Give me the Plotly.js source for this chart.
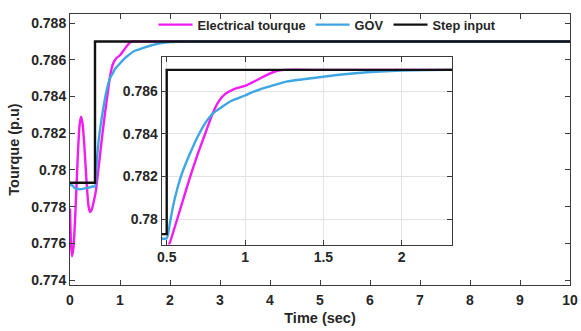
<!DOCTYPE html>
<html>
<head>
<meta charset="utf-8">
<script src="https://cdn.plot.ly/plotly-3.0.1.min.js"></script>
<style>
  html, body { margin: 0; padding: 0; background: #ffffff; }
  #chart { width: 581px; height: 331px; }
</style>
</head>
<body>
<div id="chart"></div>
<script>
// Electrical torque response (p.u) over time (s)
const elecTime = [0, 0.02, 0.04, 0.07, 0.10, 0.13, 0.16, 0.19, 0.22, 0.25, 0.28, 0.31, 0.34, 0.37, 0.40, 0.43, 0.46, 0.50,
  0.52, 0.55, 0.60, 0.65, 0.70, 0.75, 0.79, 0.83, 0.87, 0.93, 1.00, 1.08, 1.15, 1.20, 1.25, 1.5, 2, 3, 5, 10];
const elecTorque = [0.7779, 0.7760, 0.7753, 0.7758, 0.7772, 0.7791, 0.7810, 0.7824, 0.7829, 0.78255, 0.7816, 0.7803, 0.7790, 0.77805, 0.7777, 0.7778, 0.7781, 0.7786,
  0.7789, 0.7796, 0.7808, 0.7820, 0.7831, 0.7841, 0.7849, 0.7855, 0.78585, 0.7861, 0.78625, 0.78654, 0.7868, 0.78695, 0.7870, 0.7870, 0.7870, 0.7870, 0.7870, 0.7870];

// Governor (GOV) mechanical torque
const govTime = [0, 0.05, 0.10, 0.20, 0.30, 0.40, 0.45, 0.50, 0.52, 0.54, 0.57, 0.60, 0.65, 0.70, 0.75, 0.80, 0.85, 0.91,
  1.00, 1.04, 1.10, 1.16, 1.27, 1.37, 1.50, 1.60, 1.80, 2.00, 2.30, 3, 5, 10];
const govTorque = [0.7792, 0.77915, 0.7790, 0.77895, 0.7790, 0.77905, 0.7791, 0.7791, 0.7798, 0.7806, 0.7815, 0.7822, 0.7831, 0.7839, 0.78455, 0.7850, 0.78525, 0.78554,
  0.7858, 0.78593, 0.7861, 0.78623, 0.78646, 0.78656, 0.78668, 0.78677, 0.7869, 0.78697, 0.7870, 0.7870, 0.7870, 0.7870];

// Step reference input
const stepTime = [0, 0.5, 0.5, 10];
const stepTorque = [0.7793, 0.7793, 0.7870, 0.7870];

// Axis ticks
const mainXTicks = [0, 1, 2, 3, 4, 5, 6, 7, 8, 9, 10];
const mainYTicks = [0.774, 0.776, 0.778, 0.78, 0.782, 0.784, 0.786, 0.788];
const mainYLabels = ['0.774', '0.776', '0.778', '0.78', '0.782', '0.784', '0.786', '0.788'];
const insetXTicks = [0.5, 1, 1.5, 2];
const insetXLabels = ['0.5', '1', '1.5', '2'];
const insetYTicks = [0.78, 0.782, 0.784, 0.786];
const insetYLabels = ['0.78', '0.782', '0.784', '0.786'];

const seriesNames = ['Electrical tourque', 'GOV', 'Step input'];
const seriesColors = ['#f21cf2', '#3ea6e4', '#111111'];

const axisColor = '#3a3a3a';
const textColor = '#262626';

function series(x, y, i, inset, smooth) {
  return {
    x: x, y: y, type: 'scatter', mode: 'lines',
    name: seriesNames[i],
    line: smooth ? { color: seriesColors[i], width: 2.4, shape: 'spline', smoothing: 0.6 }
                 : { color: seriesColors[i], width: 2.4 },
    xaxis: inset ? 'x2' : 'x', yaxis: inset ? 'y2' : 'y',
    showlegend: !inset, hoverinfo: 'skip'
  };
}

const data = [
  series(elecTime, elecTorque, 0, false, true),
  series(govTime, govTorque, 1, false, true),
  series(stepTime, stepTorque, 2, false, false),
  series(elecTime, elecTorque, 0, true, true),
  series(govTime, govTorque, 1, true, true),
  series(stepTime, stepTorque, 2, true, false)
];

const baseAxis = {
  showline: true, linecolor: axisColor, linewidth: 1, mirror: 'ticks',
  ticks: 'inside', ticklen: 5, tickwidth: 1, tickcolor: axisColor,
  zeroline: false, fixedrange: true,
  tickfont: { size: 14, color: textColor }
};

const layout = {
  width: 581, height: 331,
  margin: { l: 70, r: 11, t: 10, b: 46, pad: 0 },
  paper_bgcolor: '#ffffff', plot_bgcolor: '#ffffff',
  font: { family: 'Liberation Sans, Arial, sans-serif', size: 14, color: textColor, weight: 'bold' },
  showlegend: true,
  legend: {
    orientation: 'h', x: 0.167, xanchor: 'left', y: 0.96, yanchor: 'middle',
    bgcolor: 'rgba(0,0,0,0)', borderwidth: 0,
    font: { size: 12.8, color: textColor, weight: 'bold' },
    itemwidth: 34, traceorder: 'normal'
  },
  xaxis: Object.assign({}, baseAxis, {
    domain: [0, 1], range: [0, 10], tickmode: 'array', tickvals: mainXTicks,
    showgrid: false, ticklabelstandoff: 2,
    title: { text: 'Time (sec)', font: { size: 14.5, weight: 'bold' }, standoff: 6 }
  }),
  yaxis: Object.assign({}, baseAxis, {
    domain: [0, 1], range: [0.77373, 0.7885], tickmode: 'array',
    tickvals: mainYTicks, ticktext: mainYLabels, showgrid: false,
    title: { text: 'Tourque (p.u)', font: { size: 14.5, weight: 'bold' }, standoff: 8 }
  }),
  xaxis2: Object.assign({}, baseAxis, {
    domain: [0.1834, 0.7646], range: [0.468, 2.323], anchor: 'y2',
    tickmode: 'array', tickvals: insetXTicks, ticktext: insetXLabels,
    showgrid: true, gridcolor: '#e3e3e3', gridwidth: 1, ticklabelstandoff: 0
  }),
  yaxis2: Object.assign({}, baseAxis, {
    domain: [0.1491, 0.8425], range: [0.77881, 0.78762], anchor: 'x2',
    tickmode: 'array', tickvals: insetYTicks, ticktext: insetYLabels,
    showgrid: true, gridcolor: '#e3e3e3', gridwidth: 1
  })
};

Plotly.newPlot('chart', data, layout, { staticPlot: true, displayModeBar: false });
</script>
</body>
</html>
